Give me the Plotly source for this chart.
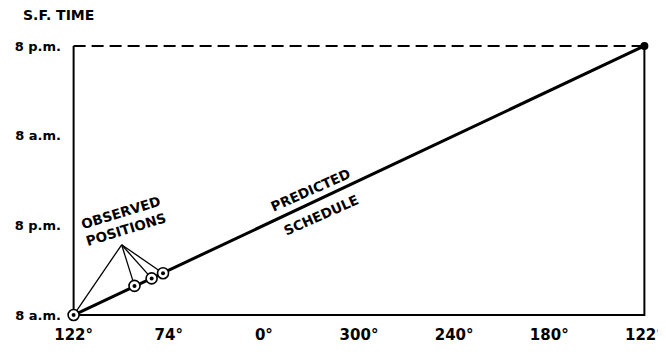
import plotly.graph_objects as go

# ---- data ----
x_pos = [0, 1, 2, 3, 4, 5, 6]
x_labels = ["122°", "74°", "0°", "300°", "240°", "180°", "122°"]
y_pos = [0, 12, 24, 36]                      # hours of San Francisco time after 8 a.m.
y_labels = ["8 a.m.", "8 p.m.", "8 a.m.", "8 p.m."]

sched_x = [0, 6]
sched_y = [0, 36]
obs_x = [0, 0.64, 0.82, 0.94]
obs_y = [0, 3.9, 4.9, 5.6]
apex_x = 0.505
apex_y = 9.4

FONT = "DejaVu Sans"
INK = "black"

fig = go.Figure()

# frame
fig.add_trace(go.Scatter(x=[0, 0, None, 0, 6, 6], y=[36, 0, None, 0, 0, 36],
                         mode="lines", line=dict(color=INK, width=2), hoverinfo="skip"))
fig.add_trace(go.Scatter(x=[0, 6], y=[36, 36], mode="lines",
                         line=dict(color=INK, width=2, dash="12px,6px"), hoverinfo="skip"))

# pointer lines from label to observed positions
px, py = [], []
for xx, yy in zip(obs_x, obs_y):
    px += [apex_x, xx, None]
    py += [apex_y, yy, None]
fig.add_trace(go.Scatter(x=px, y=py, mode="lines", line=dict(color=INK, width=1.3),
                         hoverinfo="skip"))

# predicted schedule
fig.add_trace(go.Scatter(x=sched_x, y=sched_y, mode="lines", line=dict(color=INK, width=3),
                         hoverinfo="skip"))

# observed position circles
fig.add_trace(go.Scatter(x=obs_x, y=obs_y, mode="markers", cliponaxis=False,
                         marker=dict(symbol="circle", size=11, color="white",
                                     line=dict(color=INK, width=1.6)), hoverinfo="skip"))
fig.add_trace(go.Scatter(x=obs_x, y=obs_y, mode="markers", cliponaxis=False,
                         marker=dict(symbol="circle", size=4, color=INK), hoverinfo="skip"))
# end point
fig.add_trace(go.Scatter(x=[sched_x[-1]], y=[sched_y[-1]], mode="markers", cliponaxis=False,
                         marker=dict(symbol="circle", size=8, color=INK), hoverinfo="skip"))

ann_font = dict(family=FONT, size=13.5, color=INK)
fig.add_annotation(x=apex_x + 0.02, y=12.6, text="<b>OBSERVED<br>POSITIONS</b>",
                   showarrow=False, textangle=-17, font=ann_font, align="center")
fig.add_annotation(x=2.49, y=16.7, text="<b>PREDICTED</b>", showarrow=False,
                   textangle=-24, font=ann_font)
fig.add_annotation(x=2.6, y=13.4, text="<b>SCHEDULE</b>", showarrow=False,
                   textangle=-24, font=ann_font)
fig.add_annotation(xref="paper", yref="paper", x=-0.076, y=1.077, xanchor="left",
                   yanchor="middle", text="<b>S.F. TIME</b>", showarrow=False,
                   font=dict(family=FONT, size=14, color=INK))

fig.update_layout(
    width=658, height=344,
    margin=dict(l=58, r=14, t=29, b=28),
    paper_bgcolor="white", plot_bgcolor="white",
    showlegend=False,
    xaxis=dict(range=[-0.08, 6.08], tickvals=x_pos, automargin=False,
               ticktext=[f"<b>{t}</b>" for t in x_labels],
               showgrid=False, zeroline=False, showline=False, ticks="",
               tickfont=dict(family=FONT, size=15, color=INK)),
    yaxis=dict(range=[-1.2, 37.2], tickvals=y_pos, automargin=False,
               ticktext=[f"<b>{t}</b>" for t in y_labels],
               showgrid=False, zeroline=False, showline=False, ticks="",
               ticklabelstandoff=4,
               tickfont=dict(family=FONT, size=13, color=INK)),
)

fig.write_html("out.html")
